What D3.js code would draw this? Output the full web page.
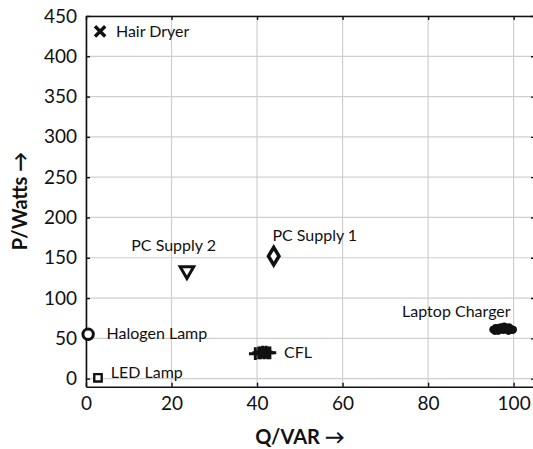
<!DOCTYPE html>
<html>
<head>
<meta charset="utf-8">
<script src="https://cdn.jsdelivr.net/npm/d3@7"></script>
<style>
  body { margin: 0; background: #fff; }
  text { font-family: Lato, "Open Sans", sans-serif; fill: #111; }
</style>
</head>
<body>
<div id="chart"></div>
<script>
// devices and their measured points (Q in VAR, P in Watts)
const hairDryerQ = [3.3];
const hairDryerP = [431];
const pcSupply2Q = [23.6];
const pcSupply2P = [134];
const pcSupply1Q = [43.9];
const pcSupply1P = [152];
const halogenQ = [0.5];
const halogenP = [55];
const ledQ = [2.8];
const ledP = [1];
const cflQ = [39.6, 40.4, 40.9, 41.3, 41.7, 42.1, 42.5, 43.0];
const cflP = [31, 32, 32, 33, 32, 33, 32, 32];
const laptopQ = [95.2, 95.8, 96.4, 97.0, 97.6, 98.2, 98.8, 99.4, 99.9, 95.6, 96.6, 97.8, 98.9, 99.7, 96.2, 97.4, 98.5];
const laptopP = [61, 63, 59, 64, 60, 63, 59, 62, 61, 59, 63, 65, 64, 60, 61, 62, 61];

const xTicks = [0, 20, 40, 60, 80, 100];
const yTicks = [0, 50, 100, 150, 200, 250, 300, 350, 400, 450];

const width = 533, height = 449;

const svg = d3.select('#chart').append('svg')
    .attr('width', width)
    .attr('height', height);

const x = d3.scaleLinear().domain([0, 105]).range([86, 535]);
const y = d3.scaleLinear().domain([-10, 450]).range([386.7, 16]);

// grid
let grid = svg.append('g').attr('class', 'grid');
grid.selectAll('.vx')
    .data(xTicks)
    .enter()
    .append('line')
    .attr('x1', (d) => x(d)).attr('x2', (d) => x(d))
    .attr('y1', y.range()[0]).attr('y2', y.range()[1])
    .attr('stroke', '#cfcfcf').attr('stroke-width', 1.2);
grid.selectAll('.hy')
    .data(yTicks)
    .enter()
    .append('line')
    .attr('y1', (d) => y(d)).attr('y2', (d) => y(d))
    .attr('x1', x.range()[0]).attr('x2', x.range()[1])
    .attr('stroke', '#cfcfcf').attr('stroke-width', 1.2);

// axes, ticks pointing inward
const axisStyle = (g) => {
  g.select('.domain').attr('stroke', '#111').attr('stroke-width', 1.6);
  g.selectAll('.tick line').attr('stroke', '#111').attr('stroke-width', 1.4);
  g.selectAll('.tick text').style('font-size', '19px').attr('fill', '#111');
};

svg.append('g')
    .attr('transform', `translate(0,${y.range()[0]})`)
    .call(d3.axisBottom(x).tickValues(xTicks).tickSizeInner(-4).tickSizeOuter(0).tickPadding(10))
    .call(axisStyle);
svg.append('g')
    .attr('transform', `translate(0,${y.range()[1]})`)
    .call(d3.axisTop(x).tickValues(xTicks).tickSizeInner(-4).tickSizeOuter(0).tickFormat(''))
    .call(axisStyle);
svg.append('g')
    .attr('transform', `translate(${x.range()[0]},0)`)
    .call(d3.axisLeft(y).tickValues(yTicks).tickSizeInner(-4).tickSizeOuter(0).tickPadding(9))
    .call(axisStyle);
svg.append('g')
    .attr('transform', `translate(${x.range()[1]},0)`)
    .call(d3.axisRight(y).tickValues(yTicks).tickSizeInner(-4).tickSizeOuter(0).tickFormat(''))
    .call(axisStyle);

// markers
const series = [
  { name: 'Hair Dryer', q: hairDryerQ, p: hairDryerP, sym: d3.symbolX, size: 70, fill: 'none', sw: 3.4 },
  { name: 'PC Supply 2', q: pcSupply2Q, p: pcSupply2P, sym: d3.symbolTriangle, size: 80, fill: '#fff', sw: 3 },
  { name: 'PC Supply 1', q: pcSupply1Q, p: pcSupply1P, sym: d3.symbolDiamond, size: 80, fill: '#fff', sw: 3.2 },
  { name: 'Halogen Lamp', q: halogenQ, p: halogenP, sym: d3.symbolCircle, size: 85, fill: '#fff', sw: 3 },
  { name: 'LED Lamp', q: ledQ, p: ledP, sym: d3.symbolSquare, size: 55, fill: '#fff', sw: 2.4 },
  { name: 'CFL', q: cflQ, p: cflP, sym: d3.symbolPlus, size: 55, fill: 'none', sw: 3 },
  { name: 'Laptop Charger', q: laptopQ, p: laptopP, sym: d3.symbolCircle, size: 45, fill: '#111', sw: 0 }
];

let marks = svg.append('g').attr('class', 'marks');
series.forEach((s) => {
  marks.selectAll(null)
      .data(s.q.map((q, i) => ({ q: q, p: s.p[i] })))
      .enter()
      .append('path')
      .attr('d', d3.symbol().type(s.sym).size(s.size))
      .attr('transform', (d) => `translate(${x(d.q)},${y(d.p)}) rotate(${s.name === 'PC Supply 2' ? 180 : 0})`
        + (s.name === 'PC Supply 1' ? ' scale(1.1,1.05)' : ''))
      .attr('fill', s.fill)
      .attr('stroke', '#111')
      .attr('stroke-width', s.sw)
      .attr('stroke-linejoin', 'miter');
});

// device labels
const labels = [
  { text: 'Hair Dryer', q: 7, p: 431, anchor: 'start' },
  { text: 'PC Supply 2', q: 20.5, p: 165, anchor: 'middle' },
  { text: 'PC Supply 1', q: 53.5, p: 178, anchor: 'middle' },
  { text: 'Halogen Lamp', q: 4.8, p: 56, anchor: 'start' },
  { text: 'LED Lamp', q: 5.8, p: 8, anchor: 'start' },
  { text: 'CFL', q: 46.3, p: 32, anchor: 'start' },
  { text: 'Laptop Charger', q: 99.3, p: 83, anchor: 'end' }
];
svg.append('g').selectAll('text')
    .data(labels)
    .enter()
    .append('text')
    .attr('x', (d) => x(d.q))
    .attr('y', (d) => y(d.p))
    .attr('dy', '0.35em')
    .attr('text-anchor', (d) => d.anchor)
    .style('font-size', '16px')
    .text((d) => d.text);

// axis titles
svg.append('text')
    .attr('x', 300).attr('y', 444)
    .attr('text-anchor', 'middle')
    .style('font-size', '20px').style('font-weight', 'bold')
    .text('Q/VAR →');
svg.append('text')
    .attr('transform', 'translate(27,201) rotate(-90)')
    .attr('text-anchor', 'middle')
    .style('font-size', '20px').style('font-weight', 'bold')
    .text('P/Watts →');
</script>
</body>
</html>
